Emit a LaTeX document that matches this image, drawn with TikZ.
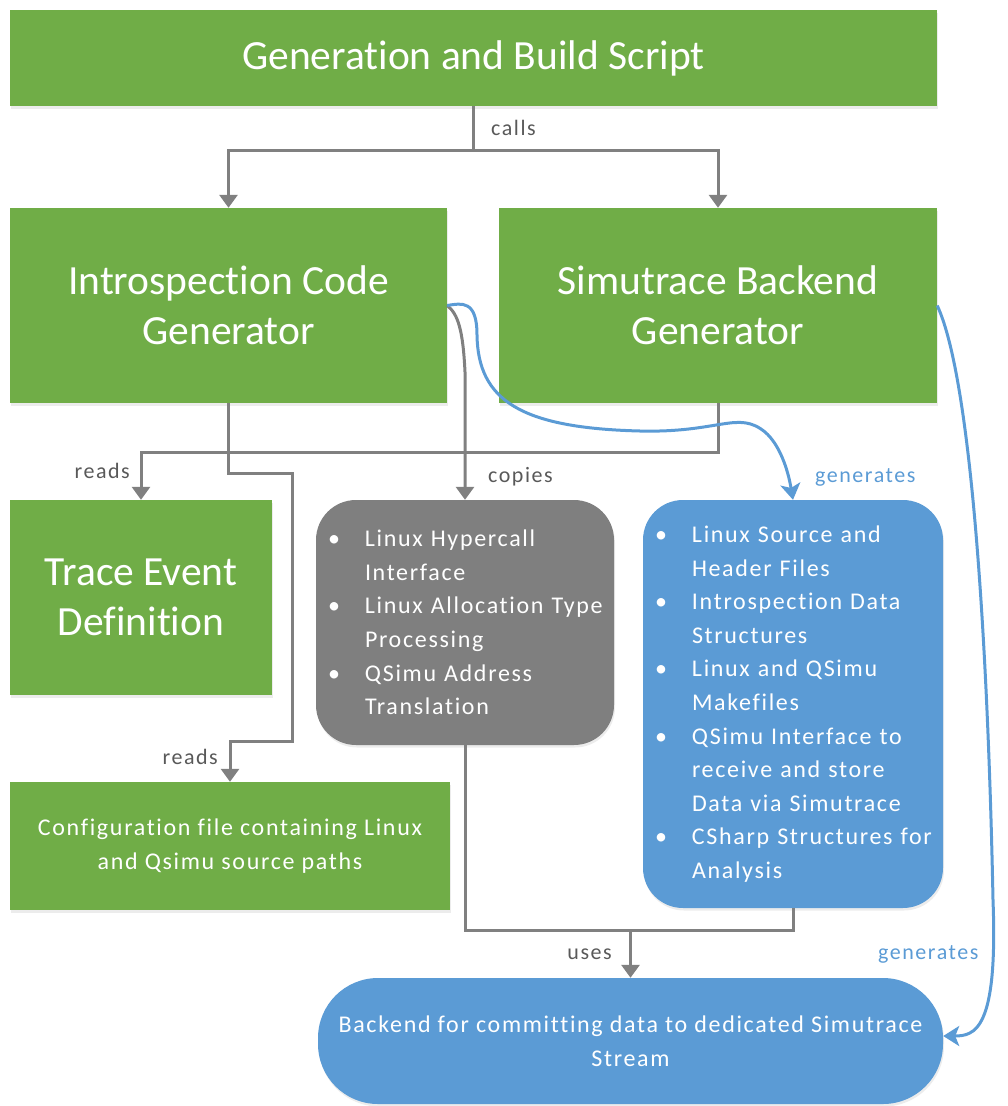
\documentclass[tikz,border=0pt]{standalone}
\usepackage{fontspec}
\setmainfont{Carlito}[Ligatures={NoCommon,NoRare}]
\newfontfamily\spacedface{Carlito}[LetterSpace=7,Ligatures={NoCommon,NoRare}]
\usetikzlibrary{arrows.meta,shadows}

\definecolor{boxgreen}{HTML}{70AD47}
\definecolor{boxblue}{HTML}{5B9BD5}
\definecolor{boxgrey}{HTML}{7F7F7F}
\definecolor{linegrey}{HTML}{808080}
\definecolor{labelgrey}{HTML}{595959}

\newcommand{\bul}{\makebox[44pt][l]{\hspace*{7pt}\textbullet}}
\newcommand{\ind}{\hspace*{44pt}}

\tikzset{
  box/.style={fill=boxgreen, text=white, align=center, inner sep=0pt,
    drop shadow={opacity=0.15, shadow xshift=1pt, shadow yshift=-2.5pt}},
  bigtext/.style={font=\fontsize{41.5}{50}\selectfont},
  smalltext/.style={font=\spacedface\fontsize{24}{33.6}\selectfont},
  conn/.style={draw=linegrey, line width=3pt},
  arr/.style={-{Triangle[width=18pt,length=13pt]}},
  blueconn/.style={draw=boxblue, line width=3pt,
    -{Stealth[width=20pt,length=16pt,inset=4pt]}},
  lbl/.style={text=labelgrey, font=\spacedface\fontsize{22}{26}\selectfont, inner sep=0pt},
  bluelbl/.style={lbl, text=boxblue},
}

\begin{document}
\begin{tikzpicture}[x=1pt,y=-1pt]
\useasboundingbox (0,0) rectangle (1008,1106);

% boxes
\node[box, bigtext, minimum width=927pt, minimum height=96pt] (gen) at (473.5,58)
  {Generation and Build Script};
\node[box, bigtext, minimum width=437pt, minimum height=195pt] (intro) at (228.5,305.5)
  {Introspection Code\\Generator};
\node[box, bigtext, minimum width=438pt, minimum height=195pt] (simu) at (718,305.5)
  {Simutrace Backend\\Generator};
\node[box, bigtext, minimum width=262pt, minimum height=195pt] (trace) at (141,597.5)
  {Trace Event\\Definition};
\node[box, smalltext, minimum width=440pt, minimum height=128pt] (config) at (230,846)
  {Configuration file containing Linux\\and Qsimu source paths};
\node[box, smalltext, fill=boxgrey, rounded corners=40pt, align=left,
      text width=288pt, inner xsep=5pt, minimum height=245pt] (copy) at (465,622.5)
  {\bul Linux Hypercall\\\ind Interface\\\bul Linux Allocation Type\\\ind Processing\\
   \bul QSimu Address\\\ind Translation};
\node[box, smalltext, fill=boxblue, rounded corners=40pt, align=left,
      text width=290pt, inner xsep=5pt, minimum height=408pt] (genbox) at (793,704)
  {\bul Linux Source and\\\ind Header Files\\\bul Introspection Data\\\ind Structures\\
   \bul Linux and QSimu\\\ind Makefiles\\\bul QSimu Interface to\\\ind receive and store\\
   \ind Data via Simutrace\\\bul CSharp Structures for\\\ind Analysis};
\node[box, smalltext, fill=boxblue, rounded corners=60pt,
      minimum width=625pt, minimum height=126pt] (backend) at (630.5,1041)
  {Backend for committing data to dedicated Simutrace\\Stream};

% calls
\draw[conn] (gen.south) -- (gen.south |- 0,150) coordinate (split);
\draw[conn,arr] (split) -| (intro.north);
\draw[conn,arr] (split) -| (simu.north);
\node[lbl, anchor=west] (lcalls) at (491,128) {calls};

% reads: trace event definition
\draw[conn,arr] (intro.south) -- (intro.south |- 0,452) -| (trace.north);
\draw[conn] (simu.south) |- (intro.south |- 0,452);
\node[lbl, anchor=east] (lreadsa) at (130,471) {reads};

% reads: configuration file
\draw[conn,arr] (intro.south) |- (292,473) |- (config.north |- 0,741) -- (config.north);
\node[lbl, anchor=east] (lreadsb) at (218,757) {reads};

% copies
\draw[conn,arr] (intro.east) .. controls (458,314) and (463,330) .. (copy.north |- 0,372)
  -- (copy.north);
\node[lbl, anchor=west] (lcopies) at (488,477) {copies};

% generates: source files
\draw[blueconn] (intro.east) .. controls (462,303) and (477,300) .. (477,335)
  .. controls (478,400) and (520,428) .. (640,431)
  .. controls (720,433) and (738,410) .. (765,432)
  .. controls (780,445) and (788,470) .. (genbox.north);
\node[bluelbl, anchor=west] (lgena) at (815,477) {generates};

% generates: backend
\draw[blueconn] (simu.east) .. controls (972,380) and (988,650) .. (993,900)
  .. controls (998,1030) and (975,1036) .. ([yshift=5pt]backend.east);
\node[bluelbl, anchor=west] (lgenb) at (878,954) {generates};

% uses
\draw[conn] (copy.south) |- (genbox.south |- 0,930) -- (genbox.south);
\draw[conn,arr] (backend.north |- 0,930) -- (backend.north);
\node[lbl, anchor=east] (luses) at (612,954) {uses};
\end{tikzpicture}
\end{document}
